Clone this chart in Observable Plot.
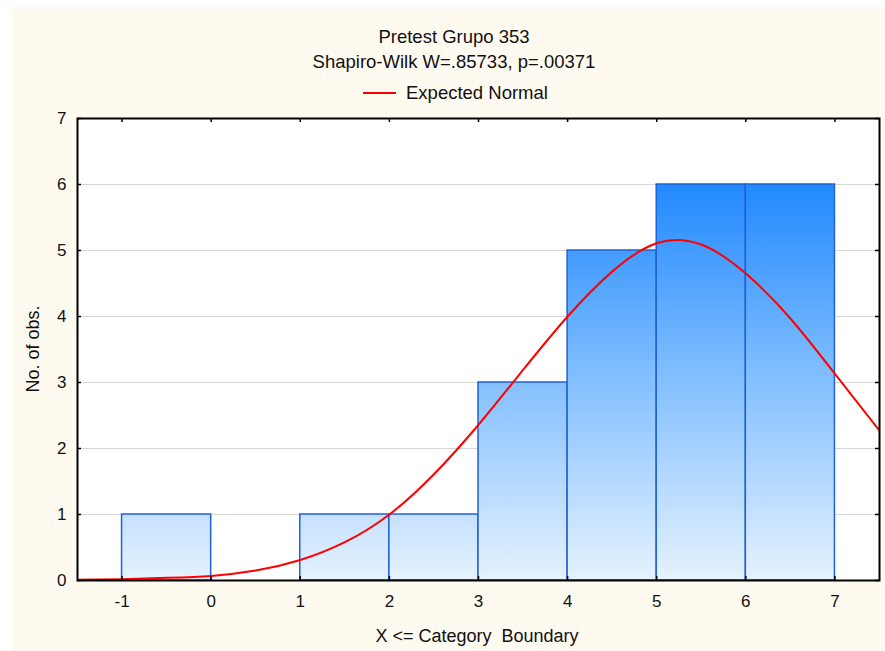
<!DOCTYPE html>
<html>
<head>
<meta charset="utf-8">
<script src="https://cdn.jsdelivr.net/npm/d3@7"></script>
<script src="https://cdn.jsdelivr.net/npm/@observablehq/plot@0.6"></script>
<style>
  html, body { margin: 0; padding: 0; background: #ffffff; }
  #wrap { position: relative; width: 885px; height: 651px; overflow: hidden; font-family: "Liberation Sans", Arial, sans-serif; color: #111; }
  #cream { position: absolute; left: 12px; top: 7px; width: 873px; height: 644px; background: #fffaf0; }
  .t { position: absolute; white-space: nowrap; line-height: 22px; height: 22px; }
  #chart { position: absolute; left: 0; top: 0; }
  #chart svg { background: transparent !important; }
</style>
</head>
<body>
<div id="wrap">
  <div id="cream"></div>
  <div id="chart"></div>
  <div class="t" id="title" style="top:26px;left:454px;transform:translateX(-50%);font-size:18.5px;">Pretest Grupo 353</div>
  <div class="t" id="subtitle" style="top:51px;left:454px;transform:translateX(-50%);font-size:18.5px;">Shapiro-Wilk W=.85733, p=.00371</div>
  <div class="t" id="legend" style="top:82px;left:363px;font-size:18.5px;"><span style="display:inline-block;width:33px;height:2px;background:#ff0000;vertical-align:middle;margin-right:10px;position:relative;top:-1px;"></span>Expected Normal</div>
  <div class="t" id="xlabel" style="top:625px;left:477px;transform:translateX(-50%);font-size:18px;">X &lt;= Category&nbsp; Boundary</div>
  <div class="t" id="ylabel" style="top:338px;left:33px;transform:translateX(-50%) rotate(-90deg);font-size:18px;">No. of obs.</div>
</div>
<script>
// Histogram bins (lower boundary, upper boundary) and counts
const binLower = [-1, 0, 1, 2, 3, 4, 5, 6];
const binUpper = [0, 1, 2, 3, 4, 5, 6, 7];
const counts   = [1, 0, 1, 1, 3, 5, 6, 6];

// Expected normal curve
const curveX = [-1.5, -1.0, -0.5, 0.0, 0.5, 1.0, 1.5, 2.0, 2.5, 3.0, 3.5, 4.0, 4.5, 5.0, 5.5, 6.0, 6.5, 7.0, 7.5];
const curveY = [0.01, 0.02, 0.04, 0.07, 0.15, 0.31, 0.58, 1.00, 1.61, 2.36, 3.19, 4.00, 4.68, 5.11, 5.09, 4.65, 3.97, 3.13, 2.27];

const xTicks = [-1, 0, 1, 2, 3, 4, 5, 6, 7];
const yTicks = [0, 1, 2, 3, 4, 5, 6, 7];
const gridY = [1, 2, 3, 4, 5, 6];

const bins = binLower.map((lo, i) => ({lo, hi: binUpper[i], n: counts[i]})).filter(d => d.n > 0);
const curve = curveX.map((x, i) => ({x, y: curveY[i]}));

const W = 885, H = 651, mL = 77, mR = 6, mT = 118, mB = 71;
const pw = W - mL - mR, ph = H - mT - mB;
const tick = 4;

const plot = Plot.plot({
  width: W, height: H,
  marginLeft: mL, marginRight: mR, marginTop: mT, marginBottom: mB,
  style: {background: "transparent", fontFamily: "'Liberation Sans', Arial, sans-serif", fontSize: "17px", color: "#111"},
  x: {domain: [-1.5, 7.5], ticks: xTicks, tickSize: 0, tickPadding: 14, label: null, tickFormat: d => String(d)},
  y: {domain: [0, 7], ticks: yTicks, tickSize: 0, tickPadding: 11, label: null, tickFormat: d => String(d)},
  marks: [
    Plot.frame({fill: "white", stroke: null}),
    Plot.ruleY(gridY, {stroke: "#d6d6d6", strokeWidth: 1}),
    Plot.rectY(bins, {x1: "lo", x2: "hi", y: "n", fill: "url(#barGrad)", stroke: "#1f62d8", strokeWidth: 1.5}),
    Plot.line(curve, {x: "x", y: "y", stroke: "#ff0000", strokeWidth: 2, curve: "natural", clip: true}),
    Plot.tickY(yTicks, {y: d => d, stroke: "black", strokeWidth: 1.5, insetRight: pw - tick}),
    Plot.tickY(yTicks, {y: d => d, stroke: "black", strokeWidth: 1.5, insetLeft: pw - tick}),
    Plot.tickX(xTicks, {x: d => d, stroke: "black", strokeWidth: 1.5, insetTop: ph - tick}),
    Plot.tickX(xTicks, {x: d => d, stroke: "black", strokeWidth: 1.5, insetBottom: ph - tick}),
    Plot.frame({stroke: "black", strokeWidth: 2})
  ]
});

const ys = plot.scale("y");
const y0 = ys.apply(0), y6 = ys.apply(6);
const svg = d3.select(plot.tagName.toLowerCase() === "svg" ? plot : plot.querySelector("svg"));
const defs = svg.insert("defs", ":first-child");
const grad = defs.append("linearGradient")
  .attr("id", "barGrad")
  .attr("gradientUnits", "userSpaceOnUse")
  .attr("x1", 0).attr("x2", 0)
  .attr("y1", y6).attr("y2", y0);
grad.append("stop").attr("offset", 0).attr("stop-color", "#2289ff");
grad.append("stop").attr("offset", 0.5).attr("stop-color", "#84c0fe");
grad.append("stop").attr("offset", 1).attr("stop-color", "#e6f2fe");

document.getElementById("chart").appendChild(plot);
</script>
</body>
</html>
